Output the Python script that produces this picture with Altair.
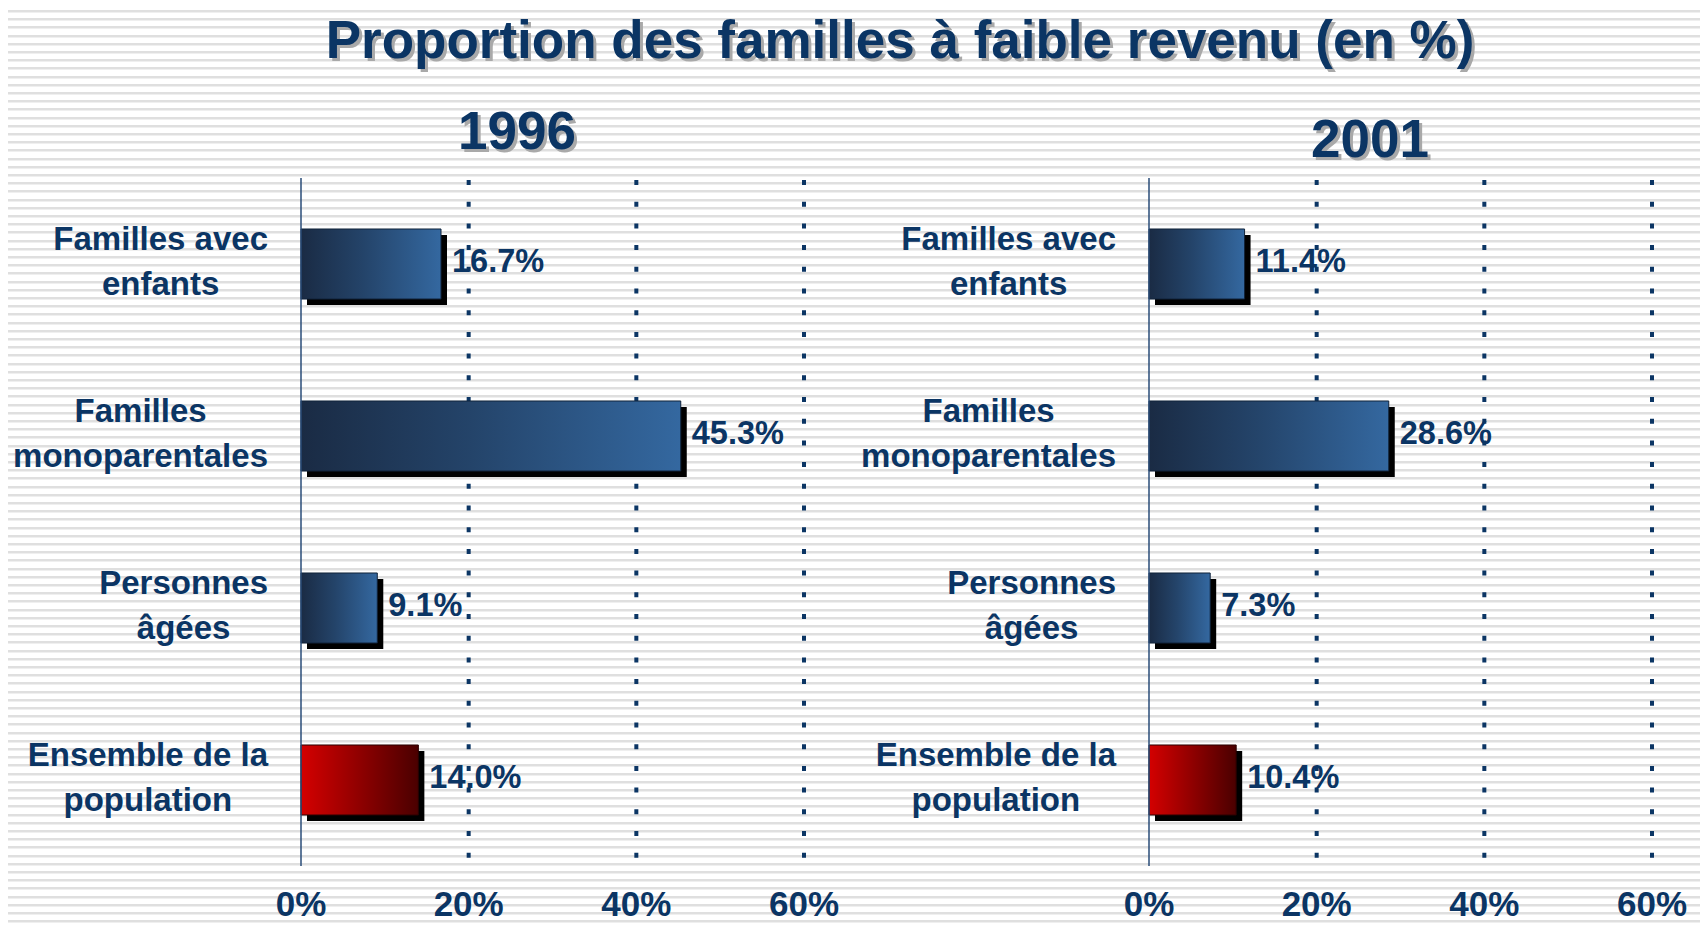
import altair as alt
import pandas as pd

# ---------------- data ----------------
title_text = ["Proportion des familles à faible revenu (en %)"]
year_1996 = ["1996"]
year_2001 = ["2001"]
categories = [
    "Familles avec|enfants",
    "Familles|monoparentales",
    "Personnes|âgées",
    "Ensemble de la|population",
]
values_1996 = [16.7, 45.3, 9.1, 14.0]
values_2001 = [11.4, 28.6, 7.3, 10.4]
bar_group = ["blue", "blue", "blue", "red"]
tick_values = [0, 20, 40, 60]
grid_values = [20, 40, 60]

# ---------------- style ----------------
W, H = 1692, 916
NAVY = "#0b3564"
REG = "Liberation Sans, Arial, Helvetica, sans-serif"
Y_TOP, Y_BOTTOM = 170, 858
CAT_SIZE = 33
CAT_PAD = 33

# approximate Arial/Liberation Sans Bold advance widths (em/1000), used to
# right-align each two-line label block while centring its lines
_ADV = {
    " ": 278, "F": 611, "P": 667, "E": 667, "a": 556, "â": 556, "b": 611, "c": 556,
    "d": 611, "e": 556, "é": 556, "f": 333, "g": 611, "i": 278, "l": 278, "m": 889,
    "n": 611, "o": 611, "p": 611, "r": 389, "s": 556, "t": 333, "u": 611, "v": 556,
}


def block_width(label, size):
    return max(sum(_ADV.get(ch, 556) for ch in line) for line in label.split("|")) * size / 1000.0


BLUE_GRAD = alt.LinearGradient(
    gradient="linear",
    stops=[alt.GradientStop(color="#1a2b44", offset=0),
           alt.GradientStop(color="#24446a", offset=0.45),
           alt.GradientStop(color="#3468a0", offset=1)],
    x1=0, x2=1, y1=0, y2=0,
)
RED_GRAD = alt.LinearGradient(
    gradient="linear",
    stops=[alt.GradientStop(color="#d40000", offset=0),
           alt.GradientStop(color="#4a0000", offset=1)],
    x1=0, x2=1, y1=0, y2=0,
)

# background horizontal stripes (decoration) as a vertical hard-stop gradient
stripe_stops = [alt.GradientStop(color="#ffffff", offset=0)]
yy = 2.0
while yy + 3 < H:
    a, b, c = yy / H, (yy + 2) / H, (yy + 3) / H
    stripe_stops += [
        alt.GradientStop(color="#ffffff", offset=a),
        alt.GradientStop(color="#dfdfdf", offset=a),
        alt.GradientStop(color="#dfdfdf", offset=b),
        alt.GradientStop(color="#efefef", offset=b),
        alt.GradientStop(color="#efefef", offset=c),
        alt.GradientStop(color="#ffffff", offset=c),
    ]
    yy += 8.2
stripe_stops.append(alt.GradientStop(color="#ffffff", offset=1))
STRIPES = alt.LinearGradient(gradient="linear", stops=stripe_stops, x1=0, x2=0, y1=0, y2=1)

stripes = alt.Chart(pd.DataFrame({"k": [0]})).mark_rect(fill=STRIPES).encode(
    x=alt.value(0), x2=alt.value(W), y=alt.value(0), y2=alt.value(H)
)


def text_layer(words, x, y, size, off=3):
    d = pd.DataFrame({"t": words})
    shadow = alt.Chart(d).mark_text(
        font=REG, fontSize=size, fontWeight="bold", color="#a9a9a9",
        align="center", baseline="alphabetic", dx=off, dy=off,
    ).encode(x=alt.value(x), y=alt.value(y), text="t:N")
    main = alt.Chart(d).mark_text(
        font=REG, fontSize=size, fontWeight="bold", color=NAVY,
        align="center", baseline="alphabetic",
    ).encode(x=alt.value(x), y=alt.value(y), text="t:N")
    return [shadow, main]


def panel(values, xrange):
    df = pd.DataFrame({
        "cat": categories,
        "value": values,
        "group": bar_group,
        "label": [f"{v:.1f}%" for v in values],
        "lab_dx": [-(CAT_PAD + block_width(c, CAT_SIZE) / 2) for c in categories],
    })
    ticks_df = pd.DataFrame({"t": tick_values, "tl": [f"{t}%" for t in tick_values]})
    xs = alt.Scale(domain=[0, 60], range=xrange, nice=False, zero=True)
    ys = alt.Scale(domain=categories, range=[Y_TOP, Y_BOTTOM], paddingInner=0.593, paddingOuter=0.2965)
    X = alt.X("value:Q", scale=xs, axis=None)
    Y = alt.Y("cat:N", sort=categories, scale=ys, axis=None)
    base = alt.Chart(df)

    grid = alt.Chart(pd.DataFrame({"g": grid_values})).mark_rule(
        color=NAVY, strokeWidth=4, strokeDash=[5, 16.7]
    ).encode(x=alt.X("g:Q", scale=xs, axis=None), y=alt.value(Y_TOP + 2), y2=alt.value(Y_BOTTOM - 6))
    shadow = base.mark_bar(color="black", xOffset=6, yOffset=6).encode(x=X, y=Y)
    blue = base.transform_filter(alt.datum.group == "blue").mark_bar(
        color=BLUE_GRAD, stroke="#11233a", strokeWidth=1
    ).encode(x=X, y=Y)
    red = base.transform_filter(alt.datum.group == "red").mark_bar(
        color=RED_GRAD, stroke="#2a0000", strokeWidth=1
    ).encode(x=X, y=Y)
    axis_line = alt.Chart(pd.DataFrame({"z": [0]})).mark_rule(
        color="#2a4d78", strokeWidth=1.5
    ).encode(x=alt.X("z:Q", scale=xs, axis=None), y=alt.value(Y_TOP), y2=alt.value(Y_BOTTOM))
    values_txt = base.mark_text(
        font=REG, fontSize=32.5, fontWeight="bold", color=NAVY,
        align="left", baseline="middle", dx=11, dy=-2,
    ).encode(x=X, y=Y, text="label:N")
    cat_txt = base.transform_calculate(zero="0").mark_text(
        font=REG, fontSize=CAT_SIZE, fontWeight="bold", color=NAVY,
        align="center", baseline="middle", lineBreak="|", lineHeight=45, dy=-24,
        dx=alt.ExprRef("datum.lab_dx"),
    ).encode(x=alt.X("zero:Q", scale=xs, axis=None), y=Y, text="cat:N")
    tick_txt = alt.Chart(ticks_df).mark_text(
        font=REG, fontSize=35, fontWeight="bold", color=NAVY,
        align="center", baseline="alphabetic",
    ).encode(x=alt.X("t:Q", scale=xs, axis=None), y=alt.value(908), text="tl:N")
    return alt.layer(grid, shadow, blue, red, axis_line, values_txt, cat_txt, tick_txt)


left = panel(values_1996, [293, 796])
right = panel(values_2001, [1141, 1644])

layers = [stripes, left, right]
layers += text_layer(title_text, 892, 50, 53)
layers += text_layer(year_1996, 509, 141, 53)
layers += text_layer(year_2001, 1362, 149, 53)

chart = alt.layer(*layers).resolve_scale(x="independent", y="independent").properties(
    width=W, height=H, autosize=alt.AutoSizeParams(type="none"), padding=0,
    background="white",
).configure_view(stroke=None)

chart.save("out.html", embed_options={"renderer": "svg", "actions": False})
